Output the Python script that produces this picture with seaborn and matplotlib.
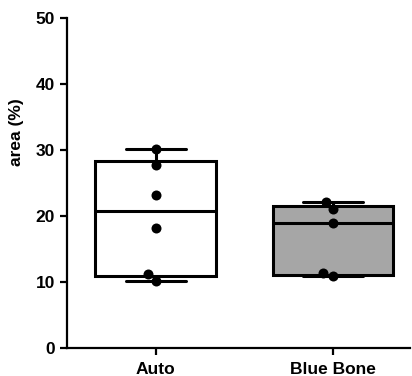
import numpy as np
import pandas as pd
import matplotlib
matplotlib.use("Agg")
import matplotlib.pyplot as plt
import seaborn as sns

groups = ["Auto", "Blue Bone"]
auto_vals = [30.2, 27.7, 23.2, 18.2, 11.2, 10.2]
blue_vals = [22.1, 21.0, 19.0, 11.3, 10.9]
box_colors = ["white", "#a6a6a6"]
yticks = [0, 10, 20, 30, 40, 50]
ylabel = "area (%)"

sns.set_theme(style="ticks")
plt.rcParams["font.family"] = ["Liberation Sans", "DejaVu Sans"]
plt.rcParams["font.weight"] = "bold"

fig = plt.figure(figsize=(4.12, 3.76), dpi=100)
ax = fig.add_axes([67 / 412, 28 / 376, 343 / 412, 330 / 376])

df = pd.DataFrame({
    "group": [groups[0]] * len(auto_vals) + [groups[1]] * len(blue_vals),
    "area": auto_vals + blue_vals,
})

stats = []
for g in groups:
    v = df.loc[df["group"] == g, "area"].to_numpy()
    q1, med, q3 = np.percentile(v, [25, 50, 75], method="weibull")
    stats.append(dict(med=med, q1=q1, q3=q3, whislo=v.min(), whishi=v.max(), fliers=[]))

lw = 2.2
bp = ax.bxp(stats, positions=[0, 1], widths=0.68, patch_artist=True,
            showfliers=False, manage_ticks=False,
            boxprops=dict(linewidth=lw, edgecolor="black"),
            medianprops=dict(color="black", linewidth=lw),
            whiskerprops=dict(color="black", linewidth=lw),
            capprops=dict(color="black", linewidth=lw))
for patch, c in zip(bp["boxes"], box_colors):
    patch.set_facecolor(c)
    patch.set_zorder(2)

sns.swarmplot(data=df, x="group", y="area", order=groups, color="black",
              size=7.2, ax=ax, zorder=4)

fs = 12.5
ax.set_xlim(-0.5, 1.434)
ax.set_ylim(0, 50)
ax.set_yticks(yticks)
ax.set_xlabel("")
ax.set_ylabel(ylabel, fontsize=fs, fontweight="bold", color="black")
ax.yaxis.set_label_coords(-0.125, 0.655)
for s in ["top", "right"]:
    ax.spines[s].set_visible(False)
for s in ["left", "bottom"]:
    ax.spines[s].set_linewidth(1.6)
    ax.spines[s].set_color("black")
ax.tick_params(axis="both", length=5, width=1.6, color="black",
               labelsize=fs, labelcolor="black")
ax.tick_params(axis="y", pad=3.5)
ax.tick_params(axis="x", pad=5)
for lab in ax.get_xticklabels() + ax.get_yticklabels():
    lab.set_fontweight("bold")

fig.savefig("out.png", dpi=100)
